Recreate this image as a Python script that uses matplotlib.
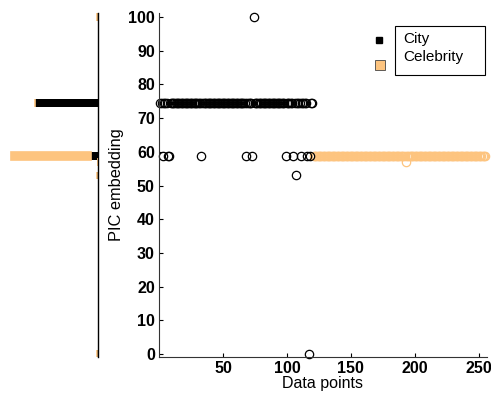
import matplotlib
matplotlib.use("Agg")
import matplotlib.pyplot as plt
from matplotlib.patches import Rectangle
import numpy as np

plt.rcParams['font.family'] = ['Liberation Sans', 'DejaVu Sans']

# City data points (index 1..120)
city_y = [
    74.5, 74.5, 58.8, 74.5, 74.5, 74.5, 58.8, 58.8, 74.5, 74.5,
    74.5, 74.5, 74.5, 74.5, 74.5, 74.5, 74.5, 74.5, 74.5, 74.5,
    74.5, 74.5, 74.5, 74.5, 74.5, 74.5, 74.5, 74.5, 74.5, 74.5,
    74.5, 74.5, 58.8, 74.5, 74.5, 74.5, 74.5, 74.5, 74.5, 74.5,
    74.5, 74.5, 74.5, 74.5, 74.5, 74.5, 74.5, 74.5, 74.5, 74.5,
    74.5, 74.5, 74.5, 74.5, 74.5, 74.5, 74.5, 74.5, 74.5, 74.5,
    74.5, 74.5, 74.5, 74.5, 74.5, 74.5, 74.5, 58.8, 74.5, 74.5,
    74.5, 74.5, 58.8, 100.0, 74.5, 74.5, 74.5, 74.5, 74.5, 74.5,
    74.5, 74.5, 74.5, 74.5, 74.5, 74.5, 74.5, 74.5, 74.5, 74.5,
    74.5, 74.5, 74.5, 74.5, 74.5, 74.5, 74.5, 74.5, 58.8, 74.5,
    74.5, 74.5, 74.5, 74.5, 58.8, 74.5, 53.0, 74.5, 74.5, 74.5,
    58.8, 74.5, 74.5, 74.5, 74.5, 58.8, 0.0, 58.8, 74.5, 74.5,
]
# Celebrity data points (index 121..255)
celeb_y = [
    58.8, 58.8, 58.8, 58.8, 58.8, 58.8, 58.8, 58.8, 58.8, 58.8, 58.8, 58.8, 58.8, 58.8, 58.8,
    58.8, 58.8, 58.8, 58.8, 58.8, 58.8, 58.8, 58.8, 58.8, 58.8, 58.8, 58.8, 58.8, 58.8, 58.8,
    58.8, 58.8, 58.8, 58.8, 58.8, 58.8, 58.8, 58.8, 58.8, 58.8, 58.8, 58.8, 58.8, 58.8, 58.8,
    58.8, 58.8, 58.8, 58.8, 58.8, 58.8, 58.8, 58.8, 58.8, 58.8, 58.8, 58.8, 58.8, 58.8, 58.8,
    58.8, 58.8, 58.8, 58.8, 58.8, 58.8, 58.8, 58.8, 58.8, 58.8, 58.8, 58.8, 57.0, 58.8, 58.8,
    58.8, 58.8, 58.8, 58.8, 58.8, 58.8, 58.8, 58.8, 58.8, 58.8, 58.8, 58.8, 58.8, 58.8, 58.8,
    58.8, 58.8, 58.8, 58.8, 58.8, 58.8, 58.8, 58.8, 58.8, 58.8, 58.8, 58.8, 58.8, 58.8, 58.8,
    58.8, 58.8, 58.8, 58.8, 58.8, 58.8, 58.8, 58.8, 58.8, 58.8, 58.8, 58.8, 58.8, 58.8, 58.8,
    58.8, 58.8, 58.8, 58.8, 58.8, 58.8, 58.8, 58.8, 58.8, 58.8, 58.8, 58.8, 58.8, 58.8, 58.8,
]
x_ticks = [50, 100, 150, 200, 250]
y_ticks = [0, 10, 20, 30, 40, 50, 60, 70, 80, 90, 100]
legend_labels = ["City", "Celebrity"]

black = "#000000"
orange = "#fdc47f"

W, H = 491, 397
fig = plt.figure(figsize=(W / 100, H / 100), dpi=100)


def fx(px):
    return px / W


def fy(py):
    return 1 - py / H


# Main scatter axes
ax = fig.add_axes([fx(159), fy(357), (487 - 159) / W, (357 - 13) / H])
city_x = np.arange(1, len(city_y) + 1)
celeb_x = np.arange(len(city_y) + 1, len(city_y) + len(celeb_y) + 1)
ax.plot(celeb_x, celeb_y, 'o', mfc='none', mec=orange, ms=6.0, mew=0.9, clip_on=False)
ax.plot(city_x, city_y, 'o', mfc='none', mec=black, ms=6.0, mew=0.9, clip_on=False)
ax.set_xlim(0, 256.5)
ax.set_ylim(-0.9, 101.2)
ax.set_xticks(x_ticks)
ax.set_yticks(y_ticks)
ax.tick_params(direction='in', length=3, width=0.8, labelsize=11.5, pad=3)
for lab in ax.get_xticklabels() + ax.get_yticklabels():
    lab.set_fontweight('bold')
ax.spines['top'].set_visible(False)
ax.spines['right'].set_visible(False)
for s in ('left', 'bottom'):
    ax.spines[s].set_color('#333333')
    ax.spines[s].set_linewidth(0.8)
ax.set_xlabel("Data points", fontsize=11.5, labelpad=0)
ax.set_ylabel("PIC embedding", fontsize=11.8, labelpad=3)

# Legend emulation (box around text, markers outside as in the original)
fig.patches.append(Rectangle((fx(395), fy(75)), (485 - 395) / W, (75 - 26) / H,
                             transform=fig.transFigure, fc='white', ec='black', lw=0.8))
fig.text(fx(403), fy(39), legend_labels[0], fontsize=11, va='center', ha='left')
fig.text(fx(403), fy(57), legend_labels[1], fontsize=11, va='center', ha='left')
fig.lines.append(plt.Line2D([fx(378.5)], [fy(40)], transform=fig.transFigure, marker='s',
                            ms=5, mfc=black, mec=black, ls='none'))
fig.lines.append(plt.Line2D([fx(380)], [fy(64.5)], transform=fig.transFigure, marker='s',
                            ms=6.5, mfc=orange, mec='#444444', mew=0.6, ls='none'))

# Left histogram axes
hx = fig.add_axes([0, fy(357), 98 / W, (357 - 13) / H])
all_vals = np.unique(np.concatenate([city_y, celeb_y]))
city_counts = np.array([np.sum(np.array(city_y) == v) for v in all_vals])
celeb_counts = np.array([np.sum(np.array(celeb_y) == v) for v in all_vals])
mask = city_counts > 0
hx.barh(all_vals[mask], city_counts[mask], height=2.2, color=black, lw=0)
hx.barh(all_vals[mask], celeb_counts[mask], left=city_counts[mask], height=2.2,
        color=orange, ec=orange, lw=1.2)
hx.barh(all_vals[~mask], celeb_counts[~mask], height=2.2, color=orange, lw=0)
hx.set_ylim(-0.9, 101.2)
hx.set_xlim(164, 0)
hx.set_xticks([])
hx.set_yticks([])
for s in ('left', 'top', 'bottom'):
    hx.spines[s].set_visible(False)
hx.spines['right'].set_linewidth(1.0)
hx.patch.set_visible(False)

fig.savefig("out.png", dpi=100)
